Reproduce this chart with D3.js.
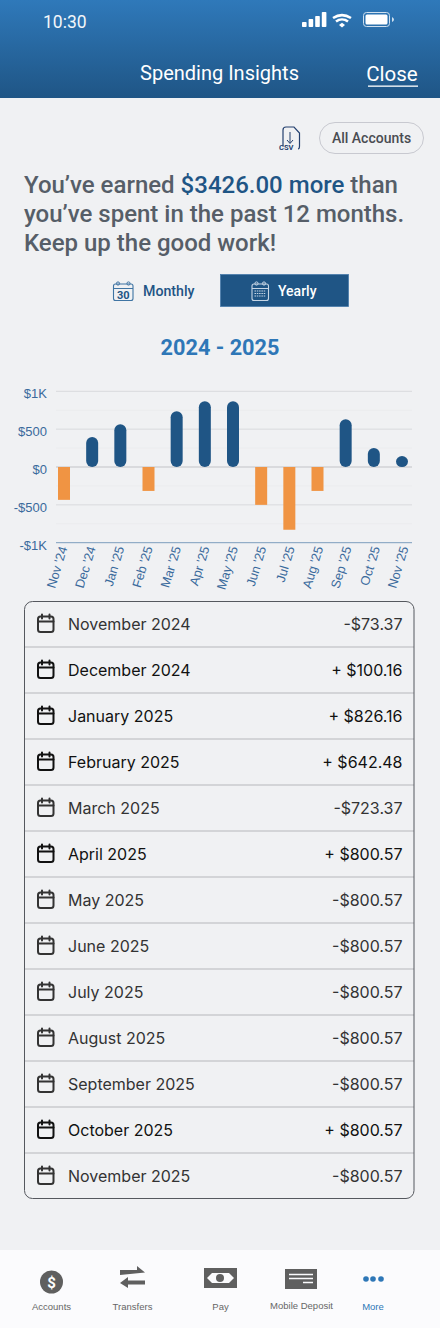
<!DOCTYPE html>
<html><head><meta charset="utf-8">
<script src="https://cdn.jsdelivr.net/npm/d3@7"></script>
<style>html,body{margin:0;padding:0;background:#f0f1f3}svg{display:block}
text{font-family:Roboto,sans-serif}
.ax text{font-family:"Liberation Sans",Arial,sans-serif;fill:#3a6a9c}
.ax .domain,.ax line{display:none}
.li{font-family:Inter,sans-serif;font-size:16px}
.nav{font-family:"Liberation Sans",Arial,sans-serif;font-size:9.5px;fill:#666;text-anchor:middle}
</style></head><body><div id="c"></div>
<script>
const months=["Nov '24","Dec '24","Jan '25","Feb '25","Mar '25","Apr '25","May '25","Jun '25","Jul '25","Aug '25","Sep '25","Oct '25","Nov '25"];
const netValues=[-434,395,566,-316,737,868,868,-500,-829,-316,632,250,145];
const majorTicks=[1000,500,0,-500,-1000];
const minorTicks=[750,250,-250,-750];
const yTickLabels=["$1K","$500","$0","-$500","-$1K"];
const rowLabels=["November 2024","December 2024","January 2025","February 2025","March 2025","April 2025","May 2025","June 2025","July 2025","August 2025","September 2025","October 2025","November 2025"];
const rowAmounts=["-$73.37","+ $100.16","+ $826.16","+ $642.48","-$723.37","+ $800.57","-$800.57","-$800.57","-$800.57","-$800.57","-$800.57","+ $800.57","-$800.57"];
const navLabels=["Accounts","Transfers","Pay","Mobile Deposit","More"];

const W=440,H=1328,navy="#1f5585",blue="#2e77b7",orange="#f09443";
const svg=d3.select("#c").append("svg").attr("width",W).attr("height",H);
const defs=svg.append("defs");
const g=defs.append("linearGradient").attr("id","hdr").attr("x1",0).attr("x2",0).attr("y1",0).attr("y2",1);
g.append("stop").attr("offset",0).attr("stop-color","#2f79ba");
g.append("stop").attr("offset",1).attr("stop-color","#1f5585");
svg.append("rect").attr("width",W).attr("height",H).attr("fill","#f0f1f3");
// header
svg.append("rect").attr("width",W).attr("height",98).attr("fill","url(#hdr)");
const T=(x,y,s,size,fill,w=400,a="start",p=svg)=>p.append("text").attr("x",x).attr("y",y).attr("font-size",size).attr("fill",fill).attr("font-weight",w).attr("text-anchor",a).text(s);
T(43,28,"10:30",17.5,"#f2f6fa");
T(219.500,80,"Spending Insights",20,"#fff",400,"middle");
T(392,81,"Close",20.500,"#fff",400,"middle");
svg.append("rect").attr("x",368).attr("y",85.500).attr("width",50).attr("height",1.300).attr("fill","#fff");
// status icons
[5,8,11,15].forEach((h,i)=>svg.append("rect").attr("x",302+i*6.600).attr("y",27-h).attr("width",4.600).attr("height",h).attr("rx",.8).attr("fill","#fff"));
svg.append("path").attr("d","M333 18a17 17 0 0 1 18 0M336 21.500a10 10 0 0 1 12 0").attr("fill","none").attr("stroke","#fff").attr("stroke-width",2.600);
svg.append("path").attr("d","M339 25l3-2.200 3 2.200-3 2.500z").attr("fill","#fff");
svg.append("rect").attr("x",363.500).attr("y",12.500).attr("width",26).attr("height",14).attr("rx",3).attr("fill","none").attr("stroke","#cfe0ef");
svg.append("rect").attr("x",365.500).attr("y",14.500).attr("width",22).attr("height",10).attr("rx",1.500).attr("fill","#fff");
svg.append("path").attr("d","M392 17v5q2-1 2-2.500t-2-2.500").attr("fill","#cfe0ef");
// csv + pill
svg.append("path").attr("d","M283 146V130q0-3 3-3h8l5.500 6v13q0 3-1.500 3").attr("fill","none").attr("stroke","#24406f").attr("stroke-width",1.200);
svg.append("path").attr("d","M290 132v11M287 140l3 3.500 3-3.500").attr("fill","none").attr("stroke","#24406f").attr("stroke-width",1);
T(279,149.500,"CSV",7.500,"#24406f",700).attr("font-family","Liberation Sans");
svg.append("rect").attr("x",319.500).attr("y",122.500).attr("width",104).attr("height",31).attr("rx",15.500).attr("fill","none").attr("stroke","#c8c9d0");
T(371.500,143,"All Accounts",14,"#4a4c52",500,"middle");
// headline
const gray="#565e68";
const l1=T(24,193,"",24,gray,500);
l1.append("tspan").text("You’ve earned ");
l1.append("tspan").attr("fill",navy).text("$3426.00 more");
l1.append("tspan").text(" than");
T(24,222,"you’ve spent in the past 12 months.",24,gray,500);
T(24,251,"Keep up the good work!",24,gray,500);
// toggle
const cal=(x,y,w,h,st,p=svg)=>{p.append("rect").attr("x",x).attr("y",y+3).attr("width",w).attr("height",h-3).attr("rx",2).attr("fill","none").attr("stroke",st).attr("stroke-width",1.100);
 p.append("path").attr("d",`M${x} ${y+7.500}H${x+w}`).attr("stroke",st);
 [x+4.500,x+w-4.500].forEach(c=>p.append("circle").attr("cx",c).attr("cy",y+2.500).attr("r",1.600).attr("fill","none").attr("stroke",st));};
cal(113.500,281,19.500,19.500,"#3f74a3");
T(123.300,298.500,"30",11,navy,700,"middle");
T(143,295.500,"Monthly",14.200,navy,500);
svg.append("rect").attr("x",220.500).attr("y",274.500).attr("width",128).attr("height",32).attr("fill",navy).attr("stroke","#4a7cab").attr("stroke-width",.8);
cal(252,281,16.500,19.500,"#c7d6e5");
svg.append("path").attr("d","M254.500 291H266M254.500 293.500H266M254.500 296H266").attr("stroke","#c7d6e5").attr("stroke-width",1.200).attr("stroke-dasharray","1.500 .8");
T(278,295.500,"Yearly",14,"#fff",500);
T(220,355,"2024 - 2025",21.700,blue,700,"middle");

// chart
const y=d3.scaleLinear().domain([-1000,1000]).range([542.700,391.300]);
const x=d3.scalePoint().domain(months).range([64,402]);
const xLab=d3.scalePoint().domain(months).range([67,408]);
const gridL=56,gridR=412;
const chart=svg.append("g");
chart.selectAll(".minor").data(minorTicks).join("line").attr("x1",gridL).attr("x2",gridR).attr("y1",d=>y(d)).attr("y2",d=>y(d)).attr("stroke","#ebecee").attr("stroke-width",1);
chart.selectAll(".major").data(majorTicks.slice(0,4)).join("line").attr("x1",gridL).attr("x2",gridR).attr("y1",d=>y(d)).attr("y2",d=>y(d)).attr("stroke","#d9dadd").attr("stroke-width",d=>d===0?2:1);
chart.append("line").attr("x1",gridL).attr("x2",gridR).attr("y1",y(-1000)).attr("y2",y(-1000)).attr("stroke","#7d9dbd").attr("stroke-width",1);
const data=months.map((m,i)=>({m,v:netValues[i]}));
const bw=12;
chart.selectAll(".bar").data(data).join("rect").attr("class","bar")
 .attr("x",d=>x(d.m)-bw/2).attr("width",bw)
 .attr("y",d=>y(Math.max(d.v,0))).attr("height",d=>Math.abs(y(d.v)-y(0)))
 .attr("rx",d=>d.v>0?6:0).attr("fill",d=>d.v>0?navy:orange);
const yAxis=d3.axisLeft(y).tickValues(majorTicks).tickSize(0).tickPadding(0).tickFormat((d,i)=>yTickLabels[i]);
const ya=svg.append("g").attr("class","ax").attr("transform","translate(47,2.500)").call(yAxis);
ya.selectAll("text").attr("style","font-size:13px");
const xAxis=d3.axisBottom(xLab).tickSize(0).tickPadding(0);
const xa=svg.append("g").attr("class","ax").attr("transform","translate(0,548)").call(xAxis);
xa.selectAll("text").attr("style","font-size:12.800px").attr("text-anchor","end").attr("dy",0).attr("y",0).attr("transform","rotate(-73)");

// list
const rowTop=601,rowH=46,listL=24.500,listR=414;
const rows=svg.append("g");
const ry=d3.scaleBand().domain(rowLabels).range([rowTop,rowTop+rowH*13]);
rows.selectAll(".sep").data(rowLabels.slice(1)).join("line").attr("x1",listL).attr("x2",listR).attr("y1",d=>ry(d)).attr("y2",d=>ry(d)).attr("stroke","#d3d4d7").attr("stroke-width",2);
svg.append("rect").attr("x",listL).attr("y",601.500).attr("width",listR-listL).attr("height",597).attr("rx",8).attr("fill","none").attr("stroke","#55585e").attr("stroke-width",1);
rowLabels.forEach((r,i)=>{
 const pos=rowAmounts[i].startsWith("+"),c=pos?"#111":"#333";
 const t=ry(r);
 T(68,t+28.500,r,16,c).attr("class","li");
 T(402.500,t+28.500,rowAmounts[i],16,c,400,"end").attr("class","li");
 const p=rows.append("g").attr("transform",`translate(38,${t+13.500})`).attr("fill","none").attr("stroke",c).attr("stroke-width",2).attr("stroke-linecap","round");
 p.append("rect").attr("x",0).attr("y",2).attr("width",15.500).attr("height",15.500).attr("rx",2.500);
 p.append("path").attr("d","M0 7H15.500M4 0V4M11.500 0V4");
});

// nav
svg.append("rect").attr("y",1250).attr("width",W).attr("height",78).attr("fill","#fbfbfd");
const navX=[51.500,132.500,220.500,301.500,373];
navLabels.forEach((n,i)=>T(navX[i],i==3?1309:1310,n,9.500,i==4?blue:"#666",400,"middle").attr("class","nav").attr("style",i==4?"fill:#2e77b7":null));
svg.append("circle").attr("cx",51.500).attr("cy",1282).attr("r",11.500).attr("fill","#5f5f5f");
T(51.500,1287.500,"$",15,"#fff",700,"middle");
svg.append("path").attr("d","M120 1270H137V1266L145 1272.500L120 1275ZM145 1280.500H128V1277L120 1283L128 1288V1284.500H145Z").attr("fill","#5f5f5f");
svg.append("rect").attr("x",204).attr("y",1268).attr("width",33).attr("height",20).attr("fill","#5f5f5f");
svg.append("path").attr("d","M207 1278l5-5h17l5 5-5 5H212z").attr("fill","#fbfbfd");
svg.append("circle").attr("cx",220).attr("cy",1278).attr("r",4).attr("fill","#5f5f5f");
svg.append("rect").attr("x",285).attr("y",1269).attr("width",32).attr("height",20).attr("fill","#5f5f5f");
svg.append("path").attr("d","M289 1274.500H313M289 1278.500H313M303 1282.500H313").attr("stroke","#fbfbfd").attr("stroke-width",1.600);
[366,373,381].forEach(c=>svg.append("circle").attr("cx",c).attr("cy",1279).attr("r",2.800).attr("fill",blue));
</script></body></html>
